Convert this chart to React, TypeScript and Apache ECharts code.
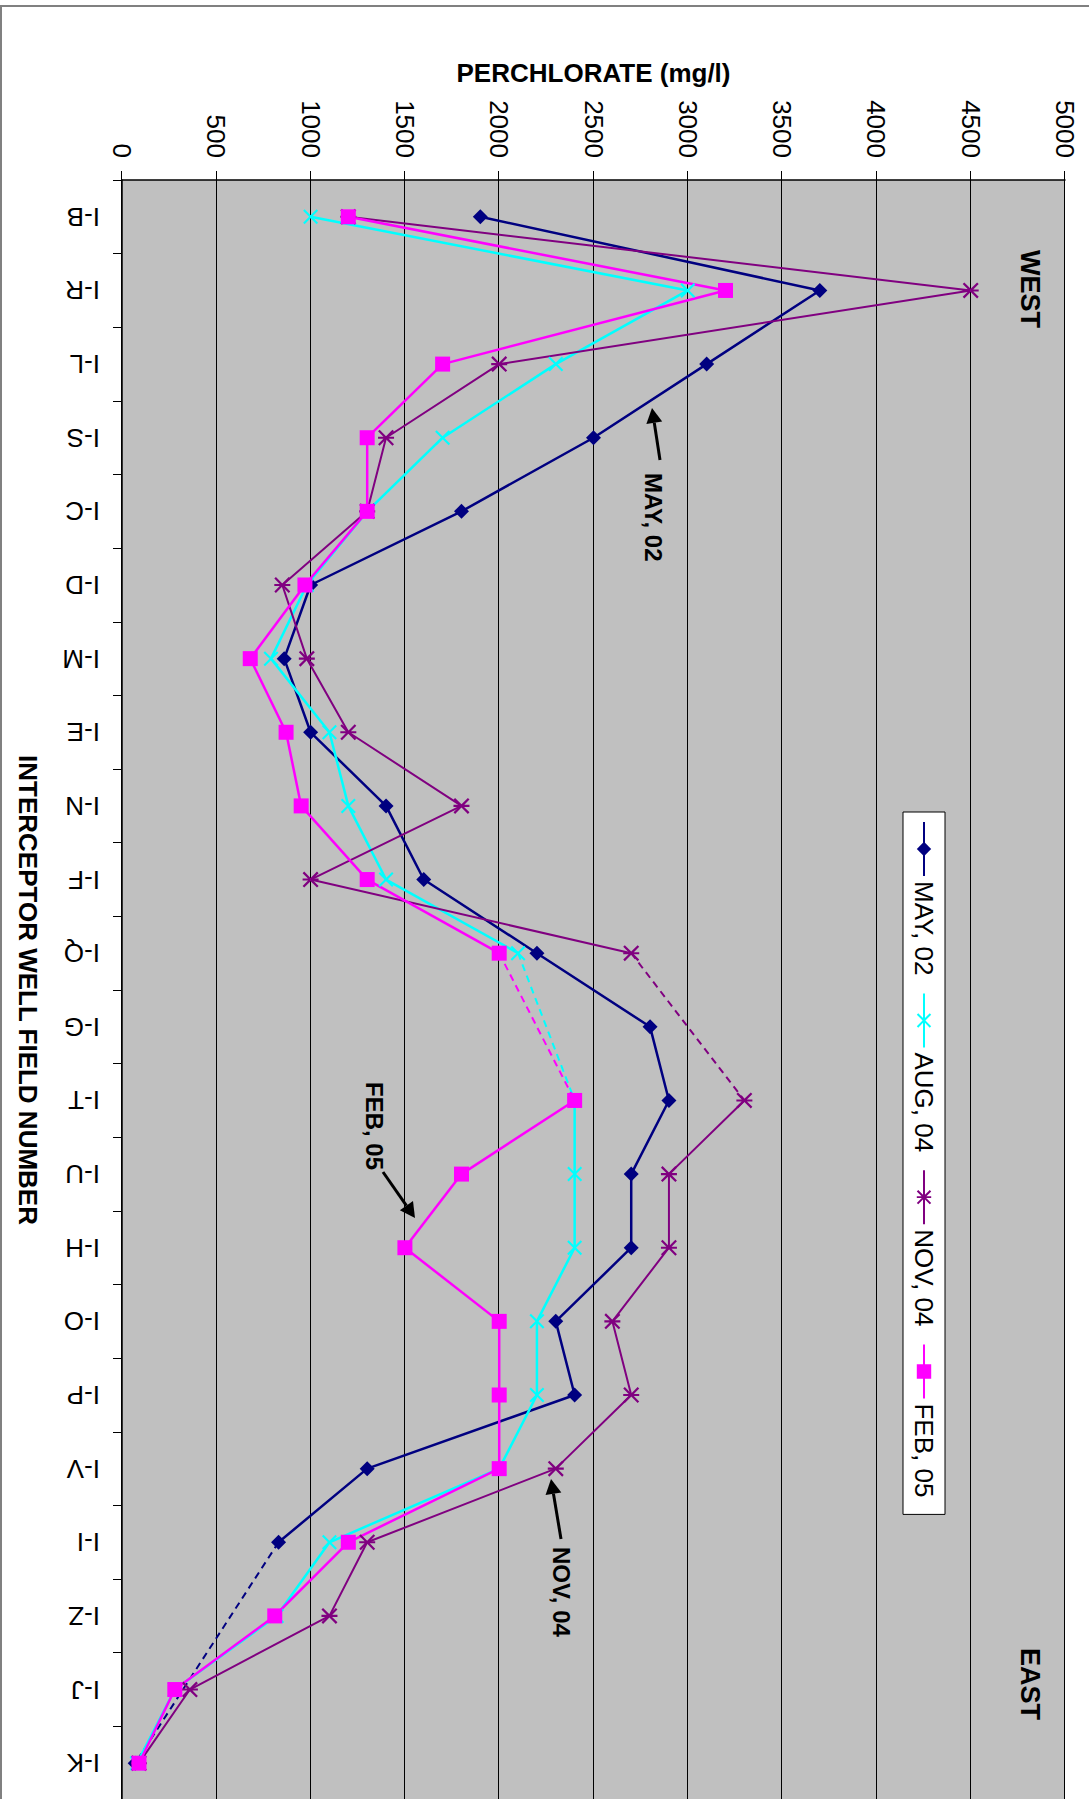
import React, { useEffect, useRef } from "react";
import * as echarts from "echarts";

// ---------- data ----------
const categories = [
  "I-B", "I-R", "I-L", "I-S", "I-C", "I-D", "I-M", "I-E", "I-N", "I-F", "I-Q",
  "I-G", "I-T", "I-U", "I-H", "I-O", "I-P", "I-V", "I-I", "I-Z", "I-J", "I-K",
];
const may02 = [1900, 3700, 3100, 2500, 1800, 1000, 860, 1000, 1400, 1600, 2200, 2800, 2900, 2700, 2700, 2300, 2400, 1300, 830, null, null, 70];
const aug04 = [1000, 3000, 2300, 1700, 1300, 980, 790, 1100, 1200, 1400, 2100, null, 2400, 2400, 2400, 2200, 2200, 2000, 1100, 820, 280, 80];
const nov04 = [1200, 4500, 2000, 1400, 1300, 850, 980, 1200, 1800, 1000, 2700, null, 3300, 2900, 2900, 2600, 2700, 2300, 1300, 1100, 360, 90];
const feb05 = [1200, 3200, 1700, 1300, 1300, 970, 680, 870, 950, 1300, 2000, null, 2400, 1800, 1500, 2000, 2000, 2000, 1200, 810, 280, 90];
const seriesNames = ["MAY, 02", "AUG, 04", "NOV, 04", "FEB, 05"];
const valueMin = 0;
const valueMax = 5000;
const valueInterval = 500;

// keep only the points that border a run of missing values (drawn dashed)
function gapBridge(vals: (number | null)[]) {
  return vals.map((v, i) => {
    if (v == null) return null;
    const prevNull = i > 0 && vals[i - 1] == null;
    const nextNull = i < vals.length - 1 && vals[i + 1] == null;
    return prevNull || nextNull ? v : null;
  });
}

const FONT = "'Liberation Sans', Arial, sans-serif";
const X_SYMBOL = "path://M0,1L1,0L5,4L9,0L10,1L6,5L10,9L9,10L5,6L1,10L0,9L4,5Z";
const STAR_SYMBOL =
  "path://M0,1L1,0L5,4L9,0L10,1L6,5L10,9L9,10L5,6L1,10L0,9L4,5ZM4.35,0L5.65,0L5.65,10L4.35,10Z";

function arrow(tail: number[], tip: number[]) {
  const dx = tip[0] - tail[0];
  const dy = tip[1] - tail[1];
  const len = Math.sqrt(dx * dx + dy * dy);
  const ux = dx / len;
  const uy = dy / len;
  const hl = 15;
  const hw = 8;
  const bx = tip[0] - ux * hl;
  const by = tip[1] - uy * hl;
  return [
    {
      type: "line",
      shape: { x1: tail[0], y1: tail[1], x2: bx, y2: by },
      style: { stroke: "#000", lineWidth: 3 },
      z: 50,
    },
    {
      type: "polygon",
      shape: {
        points: [
          [tip[0], tip[1]],
          [bx - uy * hw, by + ux * hw],
          [bx + uy * hw, by - ux * hw],
        ],
      },
      style: { fill: "#000" },
      z: 50,
    },
  ];
}

export default function App() {
  const ref = useRef<HTMLDivElement>(null);

  useEffect(() => {
    const el = ref.current;
    if (!el) return;
    const chart = echarts.init(el, null, { renderer: "svg" });

    const defs = [
      { name: seriesNames[0], data: may02, color: "#000080", symbol: "diamond", size: 15, width: 2.5 },
      { name: seriesNames[1], data: aug04, color: "#00FFFF", symbol: X_SYMBOL, size: 15, width: 2.5 },
      { name: seriesNames[2], data: nov04, color: "#800080", symbol: STAR_SYMBOL, size: 16, width: 2 },
      { name: seriesNames[3], data: feb05, color: "#FF00FF", symbol: "rect", size: 15, width: 2.5 },
    ];

    const bridges = defs.map((d) => ({
      type: "line",
      name: d.name + " gap",
      data: gapBridge(d.data),
      connectNulls: true,
      symbol: "none",
      silent: true,
      lineStyle: { color: d.color, width: 2, type: [7, 5] },
      z: 2,
    }));

    const mains = defs.map((d) => ({
      type: "line",
      name: d.name,
      data: d.data,
      connectNulls: false,
      symbol: d.symbol,
      symbolSize: d.size,
      showSymbol: true,
      lineStyle: { color: d.color, width: d.width },
      itemStyle: { color: d.color, borderWidth: 0 },
      emphasis: { disabled: true },
      z: 3,
    }));

    const annotations = [
      { text: "MAY, 02", x: 473, y: 436, tail: [460, 429], tip: [408, 437] },
      { text: "FEB, 05", x: 1082, y: 715, tail: [1172, 706], tip: [1218, 674] },
      { text: "NOV, 04", x: 1547, y: 528, tail: [1539, 528], tip: [1479, 538] },
    ];

    const graphics: any[] = [
      {
        type: "rect",
        shape: { x: 6, y: -10, width: 1900, height: 1098 },
        style: { fill: "none", stroke: "#808080", lineWidth: 2 },
        z: 0,
        silent: true,
      },
      {
        type: "text",
        x: 250,
        y: 59,
        style: { text: "WEST", font: `bold 27px ${FONT}`, fill: "#000", textAlign: "left", textVerticalAlign: "middle" },
        z: 50,
      },
      {
        type: "text",
        x: 1648,
        y: 59,
        style: { text: "EAST", font: `bold 27px ${FONT}`, fill: "#000", textAlign: "left", textVerticalAlign: "middle" },
        z: 50,
      },
    ];
    annotations.forEach((a) => {
      graphics.push({
        type: "text",
        x: a.x,
        y: a.y,
        style: { text: a.text, font: `bold 24px ${FONT}`, fill: "#000", textAlign: "left", textVerticalAlign: "middle" },
        z: 50,
      });
      arrow(a.tail, a.tip).forEach((g) => graphics.push(g));
    });

    chart.setOption({
      animation: false,
      backgroundColor: "#fff",
      textStyle: { fontFamily: FONT, color: "#000" },
      grid: {
        left: 180,
        top: 24,
        width: 1620,
        height: 943,
        show: true,
        backgroundColor: "#C0C0C0",
        borderWidth: 0,
        containLabel: false,
        outerBoundsMode: "none",
      },
      legend: {
        data: seriesNames,
        left: 812,
        top: 144,
        orient: "horizontal",
        itemWidth: 54,
        itemHeight: 18,
        itemGap: 17,
        padding: [8, 17, 8, 9],
        backgroundColor: "#fff",
        borderColor: "#000",
        borderWidth: 1,
        selectedMode: false,
        textStyle: { fontSize: 26, color: "#000", fontFamily: FONT },
      },
      xAxis: {
        type: "category",
        data: categories,
        boundaryGap: true,
        name: "INTERCEPTOR WELL FIELD NUMBER",
        nameLocation: "middle",
        nameGap: 81,
        nameTextStyle: { fontSize: 26, fontWeight: "bold", color: "#000", fontFamily: FONT },
        axisLine: { show: true, lineStyle: { color: "#000", width: 1.5 } },
        axisTick: { show: true, inside: false, length: 9, interval: 0, alignWithLabel: false, lineStyle: { color: "#000" } },
        axisLabel: { interval: 0, rotate: -90, margin: 22, fontSize: 26, color: "#000", fontFamily: FONT },
        splitLine: { show: false },
      },
      yAxis: {
        type: "value",
        min: valueMin,
        max: valueMax,
        interval: valueInterval,
        name: "PERCHLORATE (mg/l)",
        nameLocation: "middle",
        nameRotate: 90,
        nameGap: 94,
        nameTextStyle: { fontSize: 26, fontWeight: "bold", color: "#000", fontFamily: FONT },
        axisLine: { show: true, lineStyle: { color: "#000", width: 1.5 } },
        axisTick: { show: true, inside: false, length: 9, lineStyle: { color: "#000" } },
        axisLabel: {
          margin: 22,
          fontSize: 26,
          color: "#000",
          fontFamily: FONT,
          formatter: (v: number) => String(v),
        },
        splitLine: { show: true, lineStyle: { color: "#000", width: 1 } },
      },
      series: [...bridges, ...mains],
      graphic: graphics,
    });

    return () => chart.dispose();
  }, []);

  return (
    <div
      style={{
        position: "fixed",
        left: 0,
        top: 0,
        width: 1089,
        height: 1799,
        overflow: "hidden",
        background: "#fff",
      }}
    >
      <div
        ref={ref}
        style={{
          position: "absolute",
          left: 0,
          top: 0,
          width: 1799,
          height: 1089,
          transformOrigin: "0 0",
          transform: "translate(1089px, 0px) rotate(90deg)",
        }}
      />
    </div>
  );
}
